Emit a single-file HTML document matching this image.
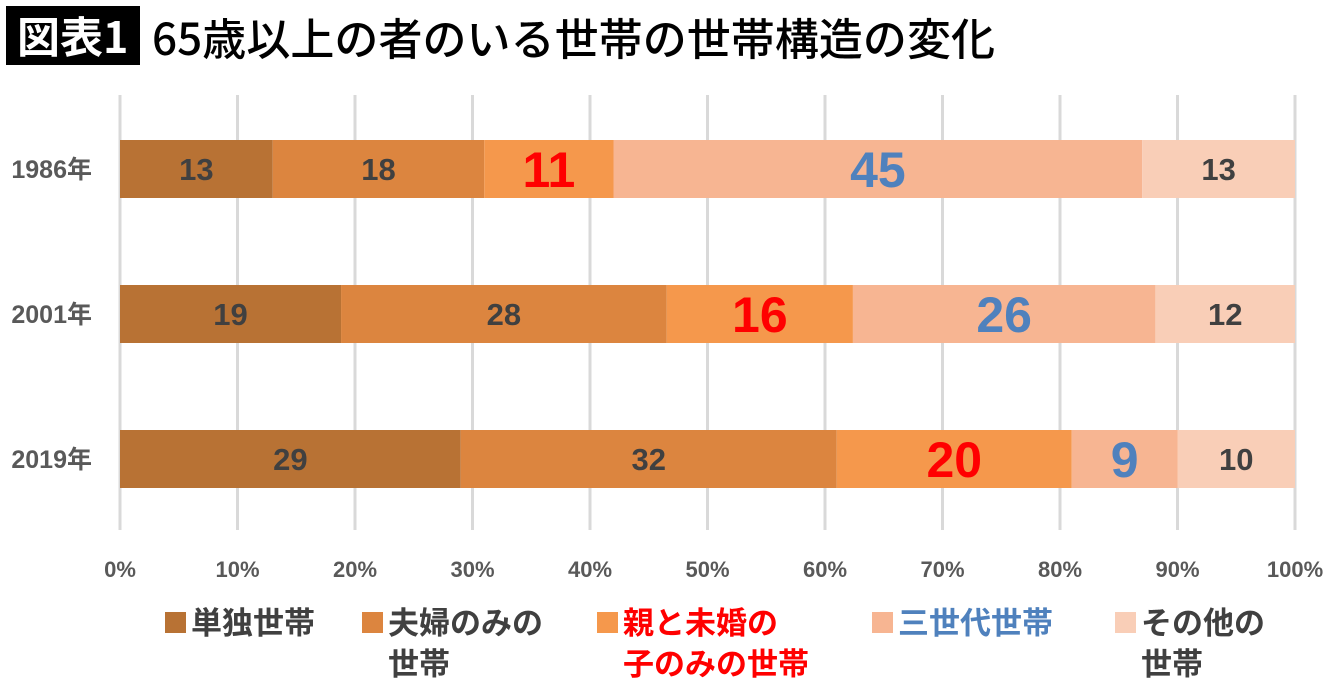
<!DOCTYPE html>
<html><head><meta charset="utf-8"><style>
body{margin:0;background:#fff;width:1340px;height:691px;overflow:hidden;font-family:"Liberation Sans","Noto Sans CJK JP",sans-serif}
</style></head><body>
<svg id="chart" width="1340" height="691" xmlns="http://www.w3.org/2000/svg">
<rect x="6" y="6" width="134" height="59" fill="#000"/>
<text x="17" y="53" font-size="43" font-weight="bold" fill="#fff" font-family="Noto Sans CJK JP, sans-serif">図表1</text>
<text x="152" y="55" font-size="44" font-weight="500" fill="#000" font-family="Noto Sans CJK JP, sans-serif" textLength="843">65歳以上の者のいる世帯の世帯構造の変化</text>
<g id="grid"></g><g id="bars"></g><g id="ticks"></g><g id="legend"></g>
</svg>
<script>
const years = ["1986年","2001年","2019年"];
const singles = [13,19,29];
const couples = [18,28,32];
const parentChild = [11,16,20];
const threeGen = [45,26,9];
const others = [13,12,10];
const tickLabels = ["0%","10%","20%","30%","40%","50%","60%","70%","80%","90%","100%"];
const seriesNames = [["単独世帯"],["夫婦のみの","世帯"],["親と未婚の","子のみの世帯"],["三世代世帯"],["その他の","世帯"]];

const NS="http://www.w3.org/2000/svg";
const x0=120,x1=1295;
const xs=p=>x0+(x1-x0)*p/100;
const rowY=[140,285,430], barH=58;
const colors=["#B87234","#DC853F","#F5984C","#F7B592","#F9CEB7"];
const labelColors=["#404040","#404040","#FF0000","#4F81BD","#404040"];
const labelSizes=[31,31,50,50,31];
const legendColors=["#404040","#404040","#FF0000","#4F81BD","#404040"];
function el(t,a,p){const e=document.createElementNS(NS,t);for(const k in a)e.setAttribute(k,a[k]);p.appendChild(e);return e;}
const grid=document.getElementById('grid'),bars=document.getElementById('bars'),ticks=document.getElementById('ticks'),legend=document.getElementById('legend');
tickLabels.forEach((t,i)=>{
  const x=xs(i*10);
  const l=el('line',{x1:x,x2:x,y1:95,y2:530,stroke:"#D9D9D9","stroke-width":3},grid);
  
  
  const tx=el('text',{x:x,y:577,"text-anchor":"middle","font-size":22,"font-weight":"bold",fill:"#595959"},ticks);
  tx.textContent=t;
  
  
});
const series=[singles,couples,parentChild,threeGen,others];
years.forEach((yr,r)=>{
  const tot=series.reduce((s,a)=>s+a[r],0);
  let acc=0;
  const yl=el('text',{x:92,y:rowY[r]+barH/2+9,"text-anchor":"end","font-size":25,"font-weight":"bold",fill:"#595959"},bars);
  yl.textContent=yr;
  
  
  series.forEach((s,k)=>{
    const a=xs(acc/tot*100), b=xs((acc+s[r])/tot*100);
    const rc=el('rect',{x:a,y:rowY[r],width:b-a,height:barH,fill:colors[k]},bars);
    
    
    const t=el('text',{x:(a+b)/2,y:rowY[r]+barH/2+labelSizes[k]*0.36,"text-anchor":"middle","font-size":labelSizes[k],"font-weight":"bold",fill:labelColors[k]},bars);
    t.textContent=s[r];
    
    
    acc+=s[r];
  });
});
const lx=[165,362,597,872,1115];
seriesNames.forEach((n,k)=>{
  const sq=el('rect',{x:lx[k],y:612,width:21,height:21,fill:colors[k]},legend);
  
  
  n.forEach((line,j)=>{
    const t=el('text',{x:lx[k]+26,y:634+j*41,"font-size":31,"font-weight":"bold",fill:legendColors[k],"font-family":"Noto Sans CJK JP, sans-serif"},legend);
    t.textContent=line;
    
    
  });
});
</script>
</body></html>
